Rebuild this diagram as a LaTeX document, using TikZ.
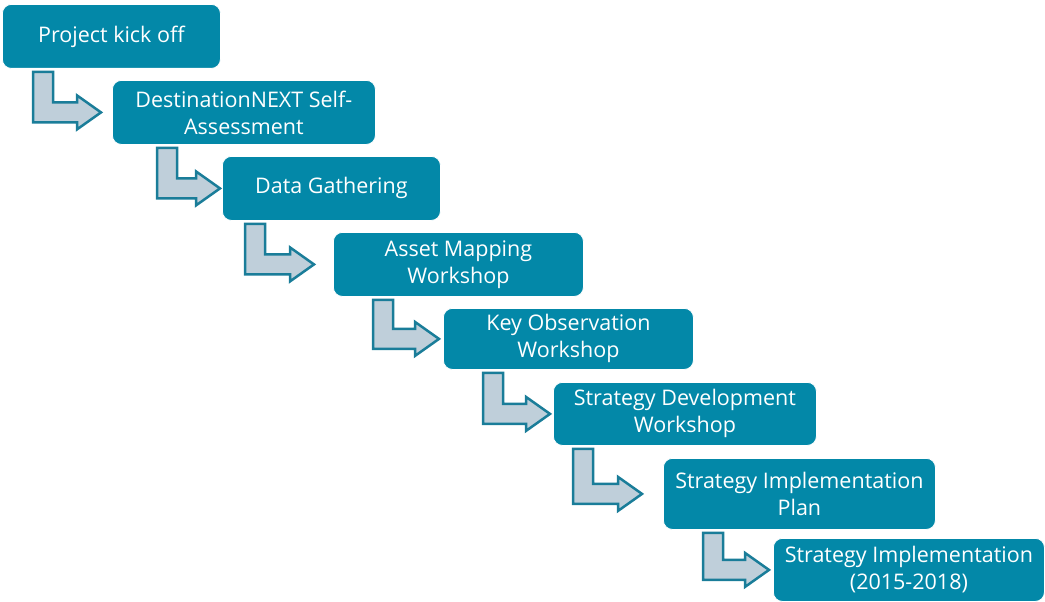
\documentclass[tikz,border=0pt]{standalone}
\usepackage{fontspec}
\setmainfont{Open Sans}
\usetikzlibrary{calc}
\definecolor{boxteal}{HTML}{0388A8}
\definecolor{arrowfill}{HTML}{BFCFDA}
\definecolor{arrowline}{HTML}{1A7D99}
\tikzset{
  stepbox/.style={rectangle, rounded corners=9pt, fill=boxteal, draw=white, line width=0.8pt,
    text=white, align=center, anchor=north west, inner sep=2pt,
    font=\fontsize{21.5}{27}\selectfont},
  flowarrow/.style={fill=arrowfill, draw=arrowline, line width=2.5pt, line join=miter}
}
\newcommand\bentarrow[4]{%
  \draw[flowarrow] let \p1=(#1.south), \p2=(#2.west) in
    (#3pt, \y1-3pt) -- (#3pt+20pt, \y1-3pt) -- (#3pt+20pt, \y2+10pt)
    -- (#4pt-24pt, \y2+10pt) -- (#4pt-24pt, \y2+17pt) -- (#4pt, \y2)
    -- (#4pt-24pt, \y2-17pt) -- (#4pt-24pt, \y2-10pt) -- (#3pt, \y2-10pt) -- cycle;}
\begin{document}
\begin{tikzpicture}[x=1pt,y=-1pt]
\useasboundingbox (0,0) rectangle (1045,602);
\node[stepbox, minimum width=218pt, minimum height=64pt] (n1) at (2,4) {Project kick off};
\node[stepbox, minimum width=263pt, minimum height=64pt] (n2) at (112,80) {DestinationNEXT Self-\\Assessment};
\node[stepbox, minimum width=218pt, minimum height=64pt] (n3) at (222,156) {Data Gathering};
\node[stepbox, minimum width=250pt, minimum height=64pt] (n4) at (333,232) {Asset Mapping\\Workshop};
\node[stepbox, minimum width=250pt, minimum height=61pt] (n5) at (443,308) {Key Observation\\Workshop};
\node[stepbox, minimum width=263pt, minimum height=63pt] (n6) at (553,382) {Strategy Development\\Workshop};
\node[stepbox, minimum width=272pt, minimum height=71pt] (n7) at (663,458) {Strategy Implementation\\Plan};
\node[stepbox, minimum width=271pt, minimum height=63pt] (n8) at (773,538) {Strategy Implementation\\(2015-2018)};
\bentarrow{n1}{n2}{33}{101}
\bentarrow{n2}{n3}{157}{220}
\bentarrow{n3}{n4}{245}{314}
\bentarrow{n4}{n5}{373}{439}
\bentarrow{n5}{n6}{483}{550}
\bentarrow{n6}{n7}{573}{642}
\bentarrow{n7}{n8}{703}{769}
\end{tikzpicture}
\end{document}
